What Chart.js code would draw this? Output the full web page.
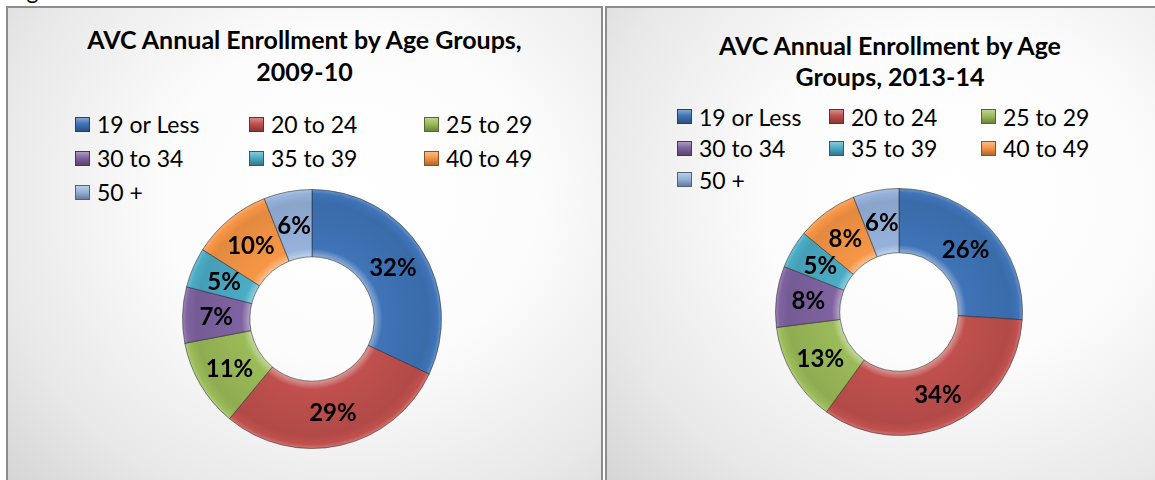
<!DOCTYPE html>
<html>
<head>
<meta charset="utf-8">
<script src="https://cdn.jsdelivr.net/npm/chart.js@4.4.1/dist/chart.umd.min.js"></script>
<style>
  body { margin: 0; width: 1155px; height: 480px; overflow: hidden; background: #fff; position: relative; font-family: Lato, "Open Sans", sans-serif; }
  .painel { position: absolute; top: 6px; height: 500px; box-sizing: border-box; border: 2px solid #8c8c8c;
    background: radial-gradient(ellipse farthest-corner at 58% 38%, #ffffff 0%, #fcfcfc 38%, #e8e8e8 75%, #d2d2d2 100%); }
  .titulo { position: absolute; text-align: center; font-weight: 700; font-size: 25px; color: #000; }
  .legenda { position: absolute; display: grid; font-size: 23px; color: #000; }
  .item { display: flex; align-items: center; white-space: nowrap; }
  .caixa { width: 15px; height: 15px; margin-right: 7px; box-sizing: border-box; flex: none; }
  canvas { position: absolute; }
  .fig { position: absolute; left: 8px; top: -21px; font-size: 23px; line-height: 23px; }
</style>
</head>
<body>
<div class="fig">Fig</div>

<div class="painel" style="left:6px; width:597px;"></div>
<div class="painel" style="left:605px; width:600px;"></div>

<div class="titulo" style="left:7px; width:595px; top:23px; line-height:32px;">AVC Annual Enrollment by Age Groups,<br>2009-10</div>
<div class="titulo" style="left:606px; width:568px; top:30px; line-height:31px;">AVC Annual Enrollment by Age<br>Groups, 2013-14</div>

<div id="legenda1" class="legenda" style="left:75px; top:107px; grid-template-columns:174px 175px 150px; grid-auto-rows:34px;"></div>
<div id="legenda2" class="legenda" style="left:677px; top:101px; grid-template-columns:152px 152px 150px; grid-auto-rows:31.5px;"></div>

<canvas id="rosca1" style="left:182px; top:189px;" width="260" height="260"></canvas>
<canvas id="rosca2" style="left:775px; top:188px;" width="248" height="248"></canvas>

<script>
const faixas = ['19 or Less', '20 to 24', '25 to 29', '30 to 34', '35 to 39', '40 to 49', '50 +'];
const valores2009 = [32, 29, 11, 7, 5, 10, 6];
const valores2013 = [26, 34, 13, 8, 5, 8, 6];
const cores = ['#3f74b8', '#c0504d', '#9bbb59', '#7f63a1', '#4bacc6', '#f79646', '#96b2dc'];

function misturar(hex, alvo, t) {
    const r = parseInt(hex.slice(1, 3), 16), g = parseInt(hex.slice(3, 5), 16), b = parseInt(hex.slice(5, 7), 16);
    const m = (c) => Math.round(c + (alvo - c) * t);
    return `rgb(${m(r)}, ${m(g)}, ${m(b)})`;
}

function montarLegenda(id) {
    const div = document.getElementById(id);
    faixas.forEach(function (nome, i) {
        const item = document.createElement('div');
        item.className = 'item';
        const caixa = document.createElement('span');
        caixa.className = 'caixa';
        caixa.style.background = `linear-gradient(180deg, ${misturar(cores[i], 255, 0.35)} 0%, ${cores[i]} 45%, ${misturar(cores[i], 0, 0.3)} 100%)`;
        caixa.style.border = `1px solid ${misturar(cores[i], 0, 0.45)}`;
        item.appendChild(caixa);
        item.appendChild(document.createTextNode(nome));
        div.appendChild(item);
    });
}

const rotulos = {
    id: 'rotulos',
    afterDatasetsDraw(chart) {
        const ctx = chart.ctx;
        const dados = chart.data.datasets[0].data;
        ctx.save();
        ctx.font = 'bold 24px Lato, sans-serif';
        ctx.fillStyle = '#000';
        ctx.textAlign = 'center';
        ctx.textBaseline = 'middle';
        chart.getDatasetMeta(0).data.forEach(function (arco, i) {
            const p = arco.tooltipPosition();
            ctx.fillText(dados[i] + '%', p.x, p.y + 1);
        });
        ctx.restore();
    }
};

function preenchimento(context) {
    const i = context.dataIndex;
    const area = context.chart.chartArea;
    if (!area || context.type !== 'data') return cores[i];
    const cx = (area.left + area.right) / 2, cy = (area.top + area.bottom) / 2;
    const externo = Math.min(area.right - area.left, area.bottom - area.top) / 2;
    const interno = externo * 0.48;
    const grad = context.chart.ctx.createRadialGradient(cx, cy, interno, cx, cy, externo);
    grad.addColorStop(0, misturar(cores[i], 255, 0.4));
    grad.addColorStop(0.12, cores[i]);
    grad.addColorStop(0.8, misturar(cores[i], 0, 0.08));
    grad.addColorStop(0.93, cores[i]);
    grad.addColorStop(1, misturar(cores[i], 255, 0.25));
    return grad;
}

function criarRosca(id, valores) {
    new Chart(document.getElementById(id), {
        type: 'doughnut',
        data: {
            labels: faixas,
            datasets: [{
                data: valores,
                backgroundColor: preenchimento,
                borderColor: 'rgba(40, 40, 40, 0.55)',
                borderWidth: 1,
                hoverOffset: 0
            }]
        },
        options: {
            responsive: false,
            animation: false,
            cutout: '48%',
            layout: { padding: 0 },
            plugins: { legend: { display: false }, tooltip: { enabled: false } }
        },
        plugins: [rotulos]
    });
}

montarLegenda('legenda1');
montarLegenda('legenda2');
criarRosca('rosca1', valores2009);
criarRosca('rosca2', valores2013);
</script>
</body>
</html>
